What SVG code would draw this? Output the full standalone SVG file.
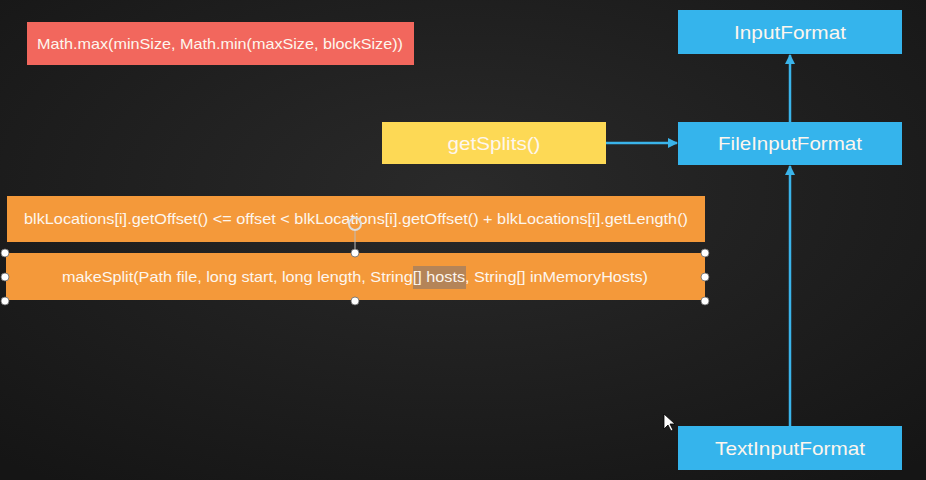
<svg xmlns="http://www.w3.org/2000/svg" width="926" height="480" viewBox="0 0 926 480">
<defs>
<style>
.t{font-family:"Liberation Sans",Arial,sans-serif;fill:#fdf6ee;text-anchor:middle;dominant-baseline:central}
.big{font-size:19px}
.sm{font-size:14.5px}
.blue{fill:#35b4ec}
.orange{fill:#f4993a}
.conn{stroke:#3ab4ea;stroke-width:2.5;fill:none}
.h{fill:#fff;stroke:#666;stroke-width:0.8}
</style>
<marker id="ah" viewBox="0 0 10 10" refX="9" refY="5" markerWidth="4" markerHeight="4" orient="auto-start-reverse">
<path d="M0,0 L10,5 L0,10 z" fill="#3ab4ea"/>
</marker>
<radialGradient id="bg" cx="50%" cy="40%" r="75%">
<stop offset="0" stop-color="#2a2a2a"/>
<stop offset="1" stop-color="#151515"/>
</radialGradient>
</defs>
<rect width="926" height="480" fill="url(#bg)"/>

<g id="connectors">
<line class="conn" x1="606" y1="143" x2="677" y2="143" marker-end="url(#ah)"/>
<line class="conn" x1="790" y1="122" x2="790" y2="55" marker-end="url(#ah)"/>
<line class="conn" x1="790" y1="426" x2="790" y2="166" marker-end="url(#ah)"/>
</g>

<g id="math-max">
<rect x="27" y="22" width="387" height="43" fill="#f2675d"/>
<text class="t sm" x="220" y="44" textLength="366" lengthAdjust="spacingAndGlyphs">Math.max(minSize, Math.min(maxSize, blockSize))</text>
</g>

<g id="getSplits">
<rect x="382" y="122" width="224" height="42" fill="#fdd955"/>
<text class="t big" x="494" y="143" textLength="93" lengthAdjust="spacingAndGlyphs">getSplits()</text>
</g>

<g id="InputFormat">
<rect class="blue" x="678" y="10" width="224" height="44"/>
<text class="t big" x="790" y="32" textLength="112" lengthAdjust="spacingAndGlyphs">InputFormat</text>
</g>

<g id="FileInputFormat">
<rect class="blue" x="678" y="122" width="224" height="43"/>
<text class="t big" x="790" y="143" textLength="144" lengthAdjust="spacingAndGlyphs">FileInputFormat</text>
</g>

<g id="TextInputFormat">
<rect class="blue" x="678" y="426" width="224" height="44"/>
<text class="t big" x="790" y="448" textLength="150" lengthAdjust="spacingAndGlyphs">TextInputFormat</text>
</g>

<g id="blkLocations">
<rect class="orange" x="7" y="196" width="698" height="46"/>
<text class="t sm" x="356" y="219" textLength="664" lengthAdjust="spacingAndGlyphs">blkLocations[i].getOffset() &lt;= offset &lt; blkLocations[i].getOffset() + blkLocations[i].getLength()</text>
</g>

<g id="makeSplit">
<rect class="orange" x="6" y="253" width="699" height="47"/>
<rect x="413" y="266" width="53" height="23" fill="#a8805e" opacity="0.85"/>
<text class="t sm" x="355" y="277" textLength="586" lengthAdjust="spacingAndGlyphs">makeSplit(Path file, long start, long length, String[] hosts, String[] inMemoryHosts)</text>
<line x1="355" y1="231" x2="355" y2="253" stroke="#bbb" stroke-width="1"/>
<circle cx="355" cy="224" r="6" fill="none" stroke="#ddd" stroke-width="2"/>
<circle class="h" cx="5" cy="253" r="4"/>
<circle class="h" cx="355" cy="253" r="4"/>
<circle class="h" cx="705" cy="253" r="4"/>
<circle class="h" cx="5" cy="277" r="4"/>
<circle class="h" cx="705" cy="277" r="4"/>
<circle class="h" cx="5" cy="301" r="4"/>
<circle class="h" cx="355" cy="301" r="4"/>
<circle class="h" cx="705" cy="301" r="4"/>
</g>

<path d="M664,414 L664,429 L668,425 L671,431 L673,430 L670,424 L675,424 z" fill="#fff" stroke="#000" stroke-width="0.8"/>
</svg>
